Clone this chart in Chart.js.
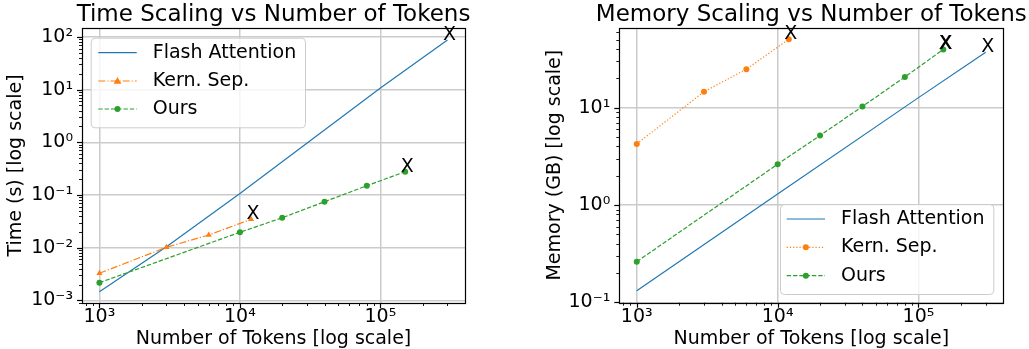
<!DOCTYPE html>
<html><head><meta charset="utf-8">
<script src="https://cdn.jsdelivr.net/npm/chart.js@4.4.1/dist/chart.umd.min.js"></script>
<style>
html,body{margin:0;padding:0;background:#fff;}
#wrap{position:relative;width:1029px;height:349px;overflow:hidden;background:#fff;}
canvas{position:absolute;top:0;}
</style></head><body>
<div id="wrap">
<canvas id="c1" width="514" height="349" style="left:0"></canvas>
<canvas id="c2" width="515" height="349" style="left:514px"></canvas>
</div>
<script>
// ---- data ----
const timeTokensFlash = [1000, 3000, 10000, 100000, 300000];
const timeFlash = [0.00146, 0.0104, 0.107, 10.7, 87];
const timeTokensKern = [1000, 3000, 6000, 12000];
const timeKern = [0.00327, 0.0102, 0.0174, 0.0346];
const timeTokensOurs = [1000, 10000, 20000, 40000, 80000, 150000];
const timeOurs = [0.00217, 0.0196, 0.037, 0.0746, 0.150, 0.277];

const memTokensFlash = [1000, 10000, 100000, 300000];
const memFlash = [0.132, 1.30, 12.7, 37.1];
const memTokensKern = [1000, 3000, 6000, 12000];
const memKern = [4.25, 14.6, 24.9, 50.5];
const memTokensOurs = [1000, 10000, 20000, 40000, 80000, 150000];
const memOurs = [0.262, 2.63, 5.19, 10.3, 20.7, 39.7];

const xTickValues = [1e3, 1e4, 1e5];
const timeYTickValues = [1e-3, 1e-2, 1e-1, 1e0, 1e1, 1e2];
const memYTickValues = [1e-1, 1e0, 1e1];
const seriesNames = ['Flash Attention', 'Kern. Sep.', 'Ours'];
const titles = ['Time Scaling vs Number of Tokens', 'Memory Scaling vs Number of Tokens'];
const xLabel = 'Number of Tokens [log scale]';
const yLabels = ['Time (s) [log scale]', 'Memory (GB) [log scale]'];
const annotationText = 'X';

// ---- styling ----
const FONT = "'DejaVu Sans'";
const BASE = 19;
const TITLE_SIZE = 23;
const BLUE = '#1f77b4', ORANGE = '#ff7f0e', GREEN = '#2ca02c';
const LW = 1.2;
Chart.defaults.font.family = FONT;
Chart.defaults.font.size = BASE;
Chart.defaults.color = '#000';

const SUP = {'0':'⁰','1':'¹','2':'²','3':'³','4':'⁴','5':'⁵','6':'⁶','7':'⁷','8':'⁸','9':'⁹','-':'⁻'};
function powLabel(v){
  const e = Math.round(Math.log10(v));
  return '10' + String(e).split('').map(c => SUP[c]).join('');
}
function pts(xs, ys){ return xs.map((x,i)=>({x, y: ys[i]})); }

function drawMarker(ctx, style, x, y, r, color){
  ctx.fillStyle = color;
  ctx.beginPath();
  if (style === 'triangle'){
    ctx.moveTo(x, y - r*1.15);
    ctx.lineTo(x + r*1.1, y + r*0.75);
    ctx.lineTo(x - r*1.1, y + r*0.75);
    ctx.closePath();
  } else {
    ctx.arc(x, y, r, 0, Math.PI*2);
  }
  ctx.fill();
}

const deco = {
  id: 'deco',
  afterDatasetsDraw(chart, args, o){
    const ctx = chart.ctx;
    ctx.save();
    ctx.fillStyle = '#000';
    ctx.font = BASE + 'px ' + FONT;
    ctx.textAlign = 'center';
    ctx.textBaseline = 'middle';
    o.marks.forEach(m => {
      const meta = chart.getDatasetMeta(m.ds);
      const el = meta.data[meta.data.length - 1];
      ctx.fillText(annotationText, el.x + 2, el.y - 5);
      if (m.bold) ctx.fillText(annotationText, el.x + 2.8, el.y - 5);
    });
    ctx.restore();
  },
  afterDraw(chart, args, o){
    const ctx = chart.ctx, a = chart.chartArea;
    const xs = chart.scales.x, ys = chart.scales.y;
    ctx.save();
    // frame
    ctx.strokeStyle = '#000';
    ctx.lineWidth = 1.2;
    ctx.strokeRect(Math.round(a.left)+0.5, Math.round(a.top)+0.5, Math.round(a.right)-Math.round(a.left), Math.round(a.bottom)-Math.round(a.top));
    // major + minor tick marks
    const lg = Math.log10;
    for (let d = Math.floor(lg(xs.min)); d <= Math.ceil(lg(xs.max)); d++){
      for (let k = 1; k < 10; k++){
        const v = k * Math.pow(10, d);
        if (v < xs.min || v > xs.max) continue;
        const p = Math.round(xs.getPixelForValue(v)) + 0.5;
        const len = k === 1 ? 5 : 3;
        ctx.lineWidth = k === 1 ? 1.2 : 0.9;
        ctx.beginPath(); ctx.moveTo(p, a.bottom); ctx.lineTo(p, a.bottom + len); ctx.stroke();
      }
    }
    for (let d = Math.floor(lg(ys.min)); d <= Math.ceil(lg(ys.max)); d++){
      for (let k = 1; k < 10; k++){
        const v = k * Math.pow(10, d);
        if (v < ys.min || v > ys.max) continue;
        const p = Math.round(ys.getPixelForValue(v)) + 0.5;
        const len = k === 1 ? 5 : 3;
        ctx.lineWidth = k === 1 ? 1.2 : 0.9;
        ctx.beginPath(); ctx.moveTo(a.left - len, p); ctx.lineTo(a.left, p); ctx.stroke();
      }
    }
    // legend
    const L = o.legend;
    ctx.beginPath();
    if (ctx.roundRect) ctx.roundRect(L.x + 0.5, L.y + 0.5, L.w, L.h, 4); else ctx.rect(L.x + 0.5, L.y + 0.5, L.w, L.h);
    ctx.fillStyle = 'rgba(255,255,255,0.8)';
    ctx.fill();
    ctx.strokeStyle = '#cccccc';
    ctx.lineWidth = 1;
    ctx.stroke();
    chart.data.datasets.forEach((ds, i) => {
      const y = L.rows[i];
      ctx.save();
      ctx.strokeStyle = ds.borderColor;
      ctx.lineWidth = ds.borderWidth;
      ctx.setLineDash(ds.borderDash || []);
      ctx.beginPath(); ctx.moveTo(L.x0, y); ctx.lineTo(L.x1, y); ctx.stroke();
      ctx.restore();
      if (ds.pointRadius > 0) drawMarker(ctx, ds.pointStyle, (L.x0 + L.x1) / 2, y, ds.pointRadius, ds.borderColor);
      ctx.fillStyle = '#000';
      ctx.font = BASE + 'px ' + FONT;
      ctx.textAlign = 'left';
      ctx.textBaseline = 'middle';
      ctx.fillText(ds.label, L.tx, y);
    });
    // title
    ctx.fillStyle = '#000';
    ctx.font = TITLE_SIZE + 'px ' + FONT;
    ctx.textAlign = 'center';
    ctx.textBaseline = 'alphabetic';
    ctx.fillText(o.title, (a.left + a.right) / 2, 21);
    ctx.restore();
  }
};

function makeChart(id, cfg){
  const datasets = [
    {label: seriesNames[0], data: cfg.flash, borderColor: BLUE, backgroundColor: BLUE, borderWidth: LW, pointRadius: 0, showLine: true, order: 3},
    {label: seriesNames[1], data: cfg.kern, borderColor: ORANGE, backgroundColor: ORANGE, borderWidth: LW, borderDash: cfg.kernDash,
      pointStyle: cfg.kernPoint, pointRadius: cfg.kernPoint === 'triangle' ? 3.5 : 3, pointBorderWidth: 0, showLine: true, order: 2},
    {label: seriesNames[2], data: cfg.ours, borderColor: GREEN, backgroundColor: GREEN, borderWidth: LW, borderDash: [4.4, 1.9],
      pointStyle: 'circle', pointRadius: 3, pointBorderWidth: 0, showLine: true, order: 1}
  ];
  return new Chart(document.getElementById(id), {
    type: 'scatter',
    data: {datasets},
    plugins: [deco],
    options: {
      responsive: false, animation: false, events: [],
      layout: {padding: cfg.pad},
      plugins: {
        legend: {display: false}, tooltip: {enabled: false},
        deco: {title: cfg.title, legend: cfg.legend, marks: [{ds: 0}, {ds: 1}, {ds: 2, bold: cfg.boldOurs}]}
      },
      scales: {
        x: {
          type: 'logarithmic', min: Math.pow(10, 2.876), max: Math.pow(10, 5.602),
          afterBuildTicks: s => { s.ticks = xTickValues.map(v => ({value: v})); },
          afterFit: s => { s.height = cfg.xh; },
          ticks: {callback: v => powLabel(v), padding: 2.5, maxRotation: 0, autoSkip: false, color: '#000', font: {size: BASE}},
          grid: {color: '#cbcbcb', lineWidth: 1.5, drawTicks: false},
          border: {display: false},
          title: {display: true, text: xLabel, color: '#000', font: {size: BASE}, padding: {top: 0, bottom: -1}}
        },
        y: {
          type: 'logarithmic', min: cfg.ymin, max: cfg.ymax,
          afterBuildTicks: s => { s.ticks = cfg.yticks.map(v => ({value: v})); },
          afterFit: s => { s.width = cfg.yw; },
          ticks: {callback: v => powLabel(v), padding: 9, autoSkip: false, color: '#000', font: {size: BASE}},
          grid: {color: '#cbcbcb', lineWidth: 1.5, drawTicks: false},
          border: {display: false},
          title: {display: true, text: cfg.ylabel, color: '#000', font: {size: BASE}, padding: {top: cfg.ytitlePad, bottom: 0}}
        }
      }
    }
  });
}

makeChart('c1', {
  flash: pts(timeTokensFlash, timeFlash),
  kern: pts(timeTokensKern, timeKern),
  ours: pts(timeTokensOurs, timeOurs),
  kernDash: [7, 2, 1.2, 2], kernPoint: 'triangle',
  ymin: Math.pow(10, -3.049), ymax: Math.pow(10, 2.169), yticks: timeYTickValues,
  ylabel: yLabels[0], title: titles[0],
  pad: {top: 28, right: 49, bottom: 0, left: 0}, yw: 82, xh: 46, ytitlePad: 4.6, boldOurs: false,
  legend: {x: 90.7, y: 37.7, w: 214.3, h: 89.6, x0: 98.3, x1: 136.7, tx: 152.7, rows: [52.7, 81, 109]}
});
makeChart('c2', {
  flash: pts(memTokensFlash, memFlash),
  kern: pts(memTokensKern, memKern),
  ours: pts(memTokensOurs, memOurs),
  kernDash: [1.2, 2], kernPoint: 'circle',
  ymin: 0.0993, ymax: 66.4, yticks: memYTickValues,
  ylabel: yLabels[1], title: titles[1],
  pad: {top: 27.7, right: 25.7, bottom: 0, left: 0}, yw: 105.3, xh: 46.3, ytitlePad: 29.6, boldOurs: true,
  legend: {x: 266, y: 204, w: 213.3, h: 90, x0: 272.7, x1: 311, tx: 327, rows: [219, 247.3, 275.7]}
});
</script>
</body></html>
